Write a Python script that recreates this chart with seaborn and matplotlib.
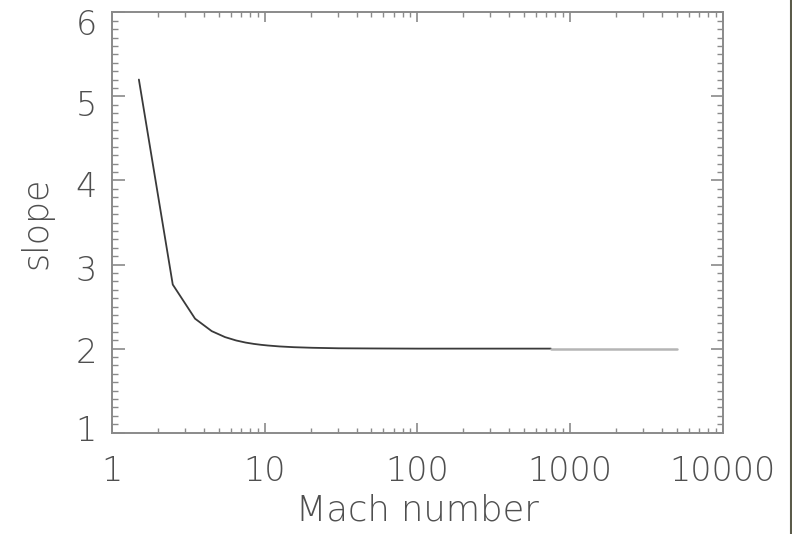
import numpy as np
import pandas as pd
import matplotlib
matplotlib.use("Agg")
import matplotlib.pyplot as plt
from matplotlib.lines import Line2D
from matplotlib.transforms import ScaledTranslation
from matplotlib.ticker import LogLocator, MultipleLocator, FixedLocator, NullFormatter
import seaborn as sns

# Spectral slope of shock-accelerated particles versus shock Mach number
mach = [1.5, 2.5, 3.5, 4.5, 5.5, 6.5, 7.5, 8.5, 9.5, 10.5, 12.5, 15.5,
        20.5, 30.5, 50.5, 100.5, 300.5, 750.0]
slope = [5.200, 2.762, 2.356, 2.208, 2.137, 2.097, 2.072, 2.056, 2.045,
         2.037, 2.026, 2.017, 2.010, 2.004, 2.002, 2.000, 2.000, 2.000]
# high-Mach tail of the curve
mach_tail = [750.0, 5000.0]
slope_tail = [2.000, 2.000]

xticks = [1, 10, 100, 1000, 10000]
xticklabels = ["1", "10", "100", "1000", "10000"]
yticks = [1, 2, 3, 4, 5, 6]

sns.set_style("ticks")
plt.rcParams["font.family"] = ["DejaVu Sans"]
plt.rcParams["font.weight"] = 200
plt.rcParams["axes.labelweight"] = 200

text_color = "#4f4f4f"
axis_color = "#8a8a8a"

fig = plt.figure(figsize=(7.92, 5.34), dpi=100)
ax = fig.add_axes([112 / 792, 1 - 432.7 / 534, (722.7 - 112) / 792, (432.7 - 12.3) / 534])

df = pd.DataFrame({"Mach": mach, "slope": slope})
df_tail = pd.DataFrame({"Mach": mach_tail, "slope": slope_tail})
sns.lineplot(data=df, x="Mach", y="slope", ax=ax, color="#3a3a3a", linewidth=1.3)
sns.lineplot(data=df_tail, x="Mach", y="slope", ax=ax, color="#b5b5b5", linewidth=1.8)

ax.set_xscale("log")
ax.set_xlim(1, 10000)
ax.set_ylim(1, 6)

ax.xaxis.set_major_locator(FixedLocator(xticks))
ax.set_xticklabels(xticklabels)
ax.xaxis.set_minor_locator(LogLocator(base=10, subs=np.arange(2, 10)))
ax.xaxis.set_minor_formatter(NullFormatter())
ax.yaxis.set_major_locator(FixedLocator(yticks))
ax.yaxis.set_minor_locator(MultipleLocator(0.1))

for side in ["left", "right", "top", "bottom"]:
    ax.spines[side].set_visible(True)
    ax.spines[side].set_color(axis_color)
    ax.spines[side].set_linewidth(1.4)

ax.tick_params(axis="both", which="both", direction="in", colors=axis_color,
               top=True, right=True, labelcolor=text_color, labelsize=24)
ax.tick_params(axis="y", which="major", length=9, width=1.2, pad=11)
ax.tick_params(axis="y", which="minor", length=4, width=1.0)
ax.tick_params(axis="x", which="major", length=7, width=1.2, pad=16)
ax.tick_params(axis="x", which="minor", length=3.5, width=1.0)

# nudge the slope labels vertically (pixels, downward positive)
label_shift = [-5, 1, 3, 4, 7, 10]
fig.canvas.draw()
for lab, dy in zip(ax.get_yticklabels(), label_shift):
    lab.set_transform(lab.get_transform() + ScaledTranslation(0, -dy / 100, fig.dpi_scale_trans))

ax.set_xlabel("Mach number", fontsize=25.5, fontweight=200, color=text_color, labelpad=4)
ax.set_ylabel("slope", fontsize=25, fontweight=200, color=text_color, labelpad=16)

# thin dark border line along the right edge of the figure
fig.add_artist(Line2D([790.5 / 792, 790.5 / 792], [0, 1], transform=fig.transFigure,
                      color="#5b5b4a", linewidth=1.5))

fig.savefig("out.png", dpi=100)
